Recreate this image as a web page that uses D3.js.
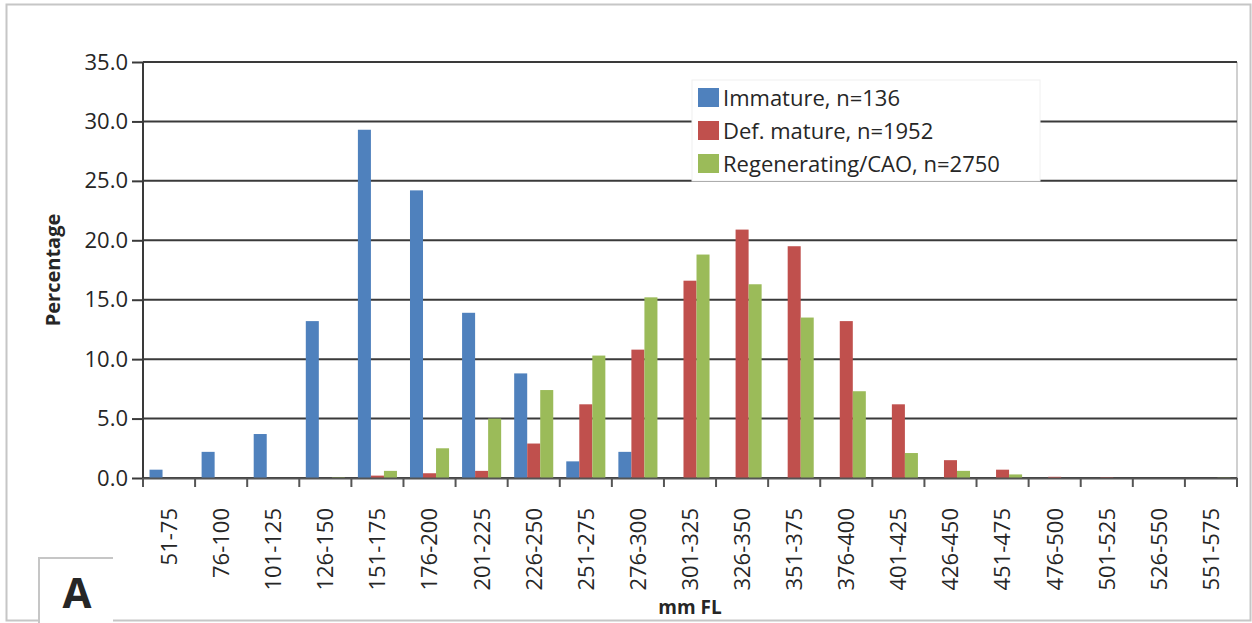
<!DOCTYPE html>
<html>
<head>
<meta charset="utf-8">
<script src="https://cdn.jsdelivr.net/npm/d3@7"></script>
<style>
  body { margin: 0; background: #fff; }
  text { font-family: "Open Sans", "Noto Sans", sans-serif; fill: #262626; }
</style>
</head>
<body>
<script>
const categories = ['51-75', '76-100', '101-125', '126-150', '151-175', '176-200', '201-225',
    '226-250', '251-275', '276-300', '301-325', '326-350', '351-375', '376-400', '401-425',
    '426-450', '451-475', '476-500', '501-525', '526-550', '551-575'];

const seriesNames = ['Immature, n=136', 'Def. mature, n=1952', 'Regenerating/CAO, n=2750'];
const seriesColors = ['#4f81bd', '#c0504d', '#9bbb59'];

const immature = [0.7, 2.2, 3.7, 13.2, 29.3, 24.2, 13.9, 8.8, 1.4, 2.2, 0, 0, 0, 0, 0, 0, 0, 0, 0, 0, 0];
const defMature = [0, 0, 0, 0, 0.2, 0.4, 0.6, 2.9, 6.2, 10.8, 16.6, 20.9, 19.5, 13.2, 6.2, 1.5, 0.7, 0.1, 0.05, 0, 0];
const regenerating = [0, 0, 0, 0.05, 0.6, 2.5, 5.0, 7.4, 10.3, 15.2, 18.8, 16.3, 13.5, 7.3, 2.1, 0.6, 0.3, 0, 0, 0, 0.03];

const yTicks = [0, 5, 10, 15, 20, 25, 30, 35];

const W = 1252, H = 623;
const plot = {left: 143, right: 1237, top: 62, bottom: 478};

const svg = d3.select('body')
    .append('svg')
    .attr('width', W)
    .attr('height', H);

// outer frame
svg.append('rect')
    .attr('x', 6.5).attr('y', 4.5)
    .attr('width', 1244).attr('height', 616)
    .attr('fill', '#fff')
    .attr('stroke', '#c6c6c6')
    .attr('stroke-width', 2);

const scaleX = d3.scaleBand()
    .domain(categories)
    .range([plot.left, plot.right])
    .padding(0);

const scaleSeries = d3.scaleBand()
    .domain(d3.range(3))
    .range([0, scaleX.bandwidth()])
    .paddingInner(0)
    .paddingOuter(0.5);

const scaleY = d3.scaleLinear()
    .domain([0, 35])
    .range([plot.bottom, plot.top]);

// plot area right edge
svg.append('line')
    .attr('x1', plot.right).attr('x2', plot.right)
    .attr('y1', plot.top).attr('y2', plot.bottom)
    .attr('stroke', '#d0d0d0')
    .attr('stroke-width', 2);

// gridlines + y axis
const yAxis = d3.axisLeft(scaleY)
    .tickValues(yTicks)
    .tickFormat(d3.format('.1f'))
    .tickSize(11)
    .tickPadding(4);

const gY = svg.append('g')
    .attr('transform', 'translate(' + plot.left + ',0)')
    .call(yAxis);
gY.select('.domain').remove();
gY.selectAll('.tick line').attr('stroke', '#3a3a3a').attr('stroke-width', 2);
gY.selectAll('.tick text')
    .style('font-size', '22px')
    .attr('fill', '#262626');

svg.append('g')
    .selectAll('line')
    .data(yTicks)
    .enter()
    .append('line')
    .attr('x1', plot.left)
    .attr('x2', plot.right)
    .attr('y1', d => scaleY(d))
    .attr('y2', d => scaleY(d))
    .attr('stroke', '#3a3a3a')
    .attr('stroke-width', 2);

// legend box (covers gridlines)
const legend = svg.append('g');
legend.append('rect')
    .attr('x', 692).attr('y', 80)
    .attr('width', 348).attr('height', 101)
    .attr('fill', '#fff')
    .attr('stroke', '#f0f0f0');

seriesNames.forEach((name, i) => {
    const row = legend.append('g')
        .attr('transform', 'translate(698,' + (88 + i * 33) + ')');
    row.append('rect')
        .attr('width', 21).attr('height', 19)
        .attr('fill', seriesColors[i]);
    row.append('text')
        .attr('x', 25).attr('y', 10)
        .attr('dy', '0.36em')
        .style('font-size', '22px')
        .text(name);
});

// bars
const allSeries = [immature, defMature, regenerating];
const groups = svg.append('g')
    .selectAll('g')
    .data(categories)
    .enter()
    .append('g')
    .attr('transform', d => 'translate(' + scaleX(d) + ',0)');

groups.selectAll('rect')
    .data((d, i) => allSeries.map((s, k) => ({k: k, v: s[i]})))
    .enter()
    .append('rect')
    .attr('x', d => scaleSeries(d.k))
    .attr('width', scaleSeries.bandwidth())
    .attr('y', d => scaleY(d.v))
    .attr('height', d => scaleY(0) - scaleY(d.v))
    .attr('fill', d => seriesColors[d.k]);

// x axis
const xAxis = d3.axisBottom(scaleX).tickSize(0).tickPadding(0);
const gX = svg.append('g')
    .attr('transform', 'translate(0,' + plot.bottom + ')')
    .call(xAxis);
gX.select('.domain').attr('stroke', '#555').attr('stroke-width', 2);
gX.selectAll('.tick text')
    .style('font-size', '22px')
    .attr('text-anchor', 'end')
    .attr('transform', 'translate(0,30) rotate(-90)')
    .attr('x', 0).attr('y', 0)
    .attr('dy', '0.36em');

// boundary ticks
svg.append('g')
    .selectAll('line')
    .data(categories.concat(['end']))
    .enter()
    .append('line')
    .attr('x1', (d, i) => i < categories.length ? scaleX(d) : plot.right)
    .attr('x2', (d, i) => i < categories.length ? scaleX(d) : plot.right)
    .attr('y1', plot.bottom)
    .attr('y2', plot.bottom + 9)
    .attr('stroke', '#555')
    .attr('stroke-width', 2);

// y axis line
svg.append('line')
    .attr('x1', plot.left).attr('x2', plot.left)
    .attr('y1', plot.top).attr('y2', plot.bottom)
    .attr('stroke', '#3a3a3a')
    .attr('stroke-width', 2);

// axis titles
svg.append('text')
    .attr('transform', 'translate(60,' + ((plot.top + plot.bottom) / 2) + ') rotate(-90)')
    .attr('text-anchor', 'middle')
    .style('font-size', '20px')
    .style('font-weight', 'bold')
    .attr('fill', '#000')
    .text('Percentage');

svg.append('text')
    .attr('x', (plot.left + plot.right) / 2)
    .attr('y', 614)
    .attr('text-anchor', 'middle')
    .style('font-size', '19px')
    .style('font-weight', 'bold')
    .attr('fill', '#000')
    .text('mm FL');

// panel label box
svg.append('rect')
    .attr('x', 40).attr('y', 559)
    .attr('width', 73).attr('height', 64)
    .attr('fill', '#fff');
svg.append('path')
    .attr('d', 'M39,623V558H113')
    .attr('fill', 'none')
    .attr('stroke', '#c6c6c6')
    .attr('stroke-width', 2);
svg.append('text')
    .attr('x', 77).attr('y', 608)
    .attr('text-anchor', 'middle')
    .style('font-size', '42px')
    .style('font-weight', 'bold')
    .attr('fill', '#000')
    .text('A');
</script>
</body>
</html>
